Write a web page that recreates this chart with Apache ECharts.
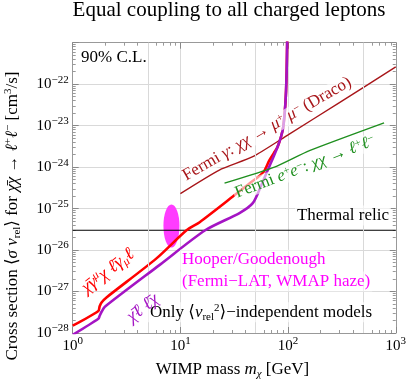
<!DOCTYPE html>
<html><head><meta charset="utf-8">
<script src="https://cdn.jsdelivr.net/npm/echarts@6/dist/echarts.min.js"></script>
<style>html,body{margin:0;padding:0;background:#fff}#c{width:409px;height:386px}</style>
</head><body><div id="c"></div>
<script>
// ---- data (cm^3/s vs GeV) ----
const vectorMass  = [1, 1.73, 1.78, 1.86, 2.06, 6, 11.4, 15.1, 30.7, 44, 52, 60, 67, 74, 80, 86, 90, 92.5, 94.5, 95.8, 97, 98.2];
const vectorSigma = [1.5e-28, 3.4e-28, 4.4e-28, 5.5e-28, 7.2e-28, 6.3e-27, 3.0e-26, 4.7e-26, 1.95e-25, 4.1e-25, 5.6e-25, 8.0e-25, 1.45e-24, 2.2e-24, 3.1e-24, 5.4e-24, 9e-24, 1.7e-23, 3.5e-23, 7e-23, 2.0e-22, 1.2e-21];
const scalarMass  = [1, 1.73, 1.78, 1.86, 1.99, 6.43, 17, 35.4, 47, 56, 64, 72, 80, 86, 90, 92.5, 94.5, 95.8, 97, 98.2];
const scalarSigma = [9e-29, 2.2e-28, 2.6e-28, 3.3e-28, 4.3e-28, 4.4e-27, 3.0e-26, 7.8e-26, 1.35e-25, 3.5e-25, 7.9e-25, 1.6e-24, 3.1e-24, 5.4e-24, 9e-24, 1.7e-23, 3.5e-23, 7e-23, 2.0e-22, 1.2e-21];
const dracoMass   = [10, 23, 47, 100, 300, 1000];
const dracoSigma  = [2.3e-25, 8.5e-25, 1.78e-24, 6.0e-24, 3.6e-23, 2.6e-22];
const eeMass      = [25.7, 74.7, 158, 779];
const eeSigma     = [4.1e-25, 1.0e-24, 2.5e-24, 1.17e-23];
const relicMass   = [1, 1000];
const relicSigma  = [3e-26, 3e-26];
const hooperMass  = [8.26];
const hooperSigma = [3.8e-26];
const extraGridX  = [5, 50, 500];

const Y_UNIT = 1e-28; // plotted in units of 1e-28 cm^3/s
const pts = (m, s) => m.map((v, i) => [v, s[i] / Y_UNIT]);

const F = "'Liberation Serif','DejaVu Serif',serif";
const tickRich = {
  b: {fontFamily: F, fontSize: 15, lineHeight: 20, color: '#000'},
  s: {fontFamily: F, fontSize: 11, lineHeight: 12, verticalAlign: 'top', color: '#000'}
};
const expLab = e => '{b|10}{s|' + (e < 0 ? '\u2212' + (-e) : e) + '}';

function rich(color, size, lh) {
  lh = lh || 20;
  const ss = Math.round(size * 0.65);
  return {
    i: {fontFamily: F, fontSize: size, fontStyle: 'italic', color: color, lineHeight: lh},
    n: {fontFamily: F, fontSize: size, color: color, lineHeight: lh},
    s: {fontFamily: F, fontSize: ss, color: color, lineHeight: 12, verticalAlign: 'top'},
    si: {fontFamily: F, fontSize: ss, fontStyle: 'italic', color: color, lineHeight: 12, verticalAlign: 'top'},
    d: {fontFamily: F, fontSize: ss, color: color, lineHeight: 12, verticalAlign: 'bottom'},
    di: {fontFamily: F, fontSize: ss, fontStyle: 'italic', color: color, lineHeight: 12, verticalAlign: 'bottom'}
  };
}
const BG = 'rgba(255,255,255,0.6)';
function label(text, x, y, color, opts) {
  opts = opts || {};
  const size = opts.size || 17;
  const lh = opts.lh || 20;
  return {
    type: 'text', x: x, y: y, rotation: (opts.rot || 0) * Math.PI / 180, z: 100,
    style: {
      text: text, fill: color, fontFamily: F, fontSize: size, lineHeight: lh,
      align: opts.align || 'left', verticalAlign: 'middle',
      backgroundColor: opts.bg === false ? null : BG, padding: opts.bg === false ? 0 : [0, 2],
      rich: rich(color, size, lh)
    }
  };
}

const axisCommon = {
  type: 'log', logBase: 10,
  axisLine: {show: true, lineStyle: {color: '#999', width: 1}},
  axisTick: {show: true, inside: true, length: 6, lineStyle: {color: '#888'}},
  minorTick: {show: true, splitNumber: 9, length: 3, lineStyle: {color: '#999'}},
};

const chart = echarts.init(document.getElementById('c'), null, {renderer: 'canvas'});
chart.setOption({
  animation: false,
  backgroundColor: '#fff',
  grid: {left: 72.7, right: 12.3, top: 42.7, bottom: 53, containLabel: false},
  xAxis: [
    Object.assign({}, axisCommon, {
      min: 1, max: 1000, position: 'bottom',
      splitLine: {show: true, lineStyle: {color: '#d9d9d9', width: 1}},
      axisLabel: {margin: 3, formatter: v => expLab(Math.round(Math.log10(v))), rich: tickRich}
    }),
    Object.assign({}, axisCommon, {
      min: 1, max: 1000, position: 'top', axisLabel: {show: false}, splitLine: {show: false}
    })
  ],
  yAxis: [
    Object.assign({}, axisCommon, {
      min: 1, max: 1e7, position: 'left',
      splitLine: {show: true, lineStyle: {color: '#d9d9d9', width: 1}},
      axisLabel: {margin: 4, formatter: v => {
        const e = Math.round(Math.log10(v * Y_UNIT));
        return e === -21 ? '' : expLab(e);
      }, rich: tickRich}
    }),
    Object.assign({}, axisCommon, {
      min: 1, max: 1e7, position: 'right', axisLabel: {show: false}, splitLine: {show: false}
    })
  ],
  series: [
    {type: 'line', data: [], z: 1, silent: true,
     markLine: {silent: true, symbol: 'none', animation: false, label: {show: false},
       lineStyle: {color: '#d9d9d9', type: 'solid', width: 1},
       data: extraGridX.map(v => ({xAxis: v}))}},
    {type: 'scatter', data: pts(hooperMass, hooperSigma), symbol: 'circle', symbolSize: [16, 43],
     itemStyle: {color: '#ff3cff', opacity: 1}, z: 2, silent: true},
    {type: 'line', data: pts(relicMass, relicSigma), showSymbol: false, symbol: 'none',
     lineStyle: {color: '#000', width: 1.2}, z: 3},
    {type: 'line', data: pts(dracoMass, dracoSigma), showSymbol: false, symbol: 'none', smooth: 0.2,
     lineStyle: {color: '#a8161a', width: 1.4}, z: 3},
    {type: 'line', data: pts(eeMass, eeSigma), showSymbol: false, symbol: 'none', smooth: 0.2,
     lineStyle: {color: '#1f8f1f', width: 1.4}, z: 101},
    {type: 'line', data: pts(vectorMass, vectorSigma), showSymbol: false, symbol: 'none', smooth: 0.25,
     lineStyle: {color: '#ff0000', width: 2.6}, z: 4},
    {type: 'line', data: pts(scalarMass, scalarSigma), showSymbol: false, symbol: 'none', smooth: 0.25,
     lineStyle: {color: '#a414c4', width: 2.6}, z: 5}
  ],
  graphic: [
    {type: 'text', x: 229, y: 10, z: 100, style: {text: 'Equal coupling to all charged leptons', fontFamily: F, fontSize: 21, fill: '#000', align: 'center', verticalAlign: 'middle'}},
    {type: 'text', x: 232.5, y: 370, z: 100, style: {text: 'WIMP mass {i|m}{di|χ} [GeV]', fontFamily: F, fontSize: 17, lineHeight: 20, fill: '#000', align: 'center', verticalAlign: 'middle', rich: rich('#000', 17)}},
    {type: 'text', x: 13, y: 216, rotation: Math.PI / 2, z: 100, style: {text: 'Cross section \u27e8{i|σ} {i|v}{d|rel}\u27e9 for {i|χ\u0304χ} \u2192 {i|ℓ}{s|+}{i|ℓ}{s|\u2212} [cm{s|3}/s]', fontFamily: F, fontSize: 17, lineHeight: 20, fill: '#000', align: 'center', verticalAlign: 'middle', rich: rich('#000', 17)}},
    label('90% C.L.', 81, 57.5, '#000', {bg: false}),
    label('Thermal relic', 391, 215.5, '#000', {align: 'right'}),
    label('Hooper/Goodenough', 180, 259.7, '#ff00ff'),
    label('(Fermi\u2212LAT, WMAP haze)', 180, 281.5, '#ff00ff'),
    label('Only \u27e8{i|v}{d|rel}{s|2}\u27e9\u2212independent models', 148, 312.3, '#000'),
    label('Fermi {i|γ}: {i|χχ} \u2192 {i|μ}{s|+} {i|μ}{s|\u2212} (Draco)', 267, 129, '#a8161a', {align: 'center', rot: 30, lh: 17}),
    label('Fermi {i|e}{s|+}{i|e}{s|\u2212}: {i|χχ} \u2192 {i|ℓ}{s|+}{i|ℓ}{s|\u2212}', 305, 167, '#1f8f1f', {align: 'center', rot: 21, lh: 17}),
    label('{i|χ\u0304γ}{si|μ}{i|χ ℓ\u0304γ}{di|μ}{i|ℓ}', 108, 271, '#ff0000', {align: 'center', rot: 37.5, bg: false, size: 18}),
    label('{i|χ\u0304ℓ ℓ\u0304χ}', 143, 308, '#a414c4', {align: 'center', rot: 37.5, bg: false, size: 18})
  ]
});
</script>
</body></html>
